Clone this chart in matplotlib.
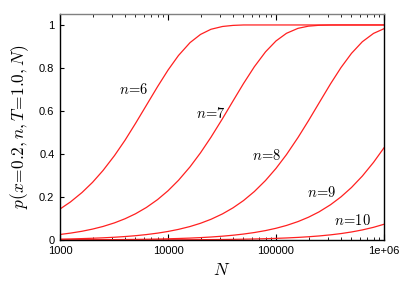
import matplotlib
matplotlib.use("Agg")
import matplotlib.pyplot as plt
from matplotlib.ticker import FixedLocator, LogLocator, NullFormatter

plt.rcParams['mathtext.fontset'] = 'cm'

N = [1000, 1250, 1600, 2000, 2500, 3200, 4000, 5000, 6300, 8000,
     10000, 12500, 16000, 20000, 25000, 32000, 40000, 50000, 63000, 80000,
     100000, 125000, 160000, 200000, 250000, 320000, 400000, 500000, 630000, 800000,
     1000000]

p_n6 = [0.144, 0.177, 0.221, 0.268, 0.323, 0.393, 0.464, 0.542, 0.626, 0.713,
        0.790, 0.858, 0.918, 0.956, 0.980, 0.993, 0.998, 1.000, 1.000, 1.000,
        1.000, 1.000, 1.000, 1.000, 1.000, 1.000, 1.000, 1.000, 1.000, 1.000,
        1.000]
p_n7 = [0.0257, 0.032, 0.0407, 0.0507, 0.0629, 0.0798, 0.0988, 0.1219, 0.1511, 0.1878,
        0.2289, 0.2775, 0.3403, 0.4055, 0.4780, 0.5648, 0.6466, 0.7275, 0.8056, 0.8751,
        0.9257, 0.9612, 0.9844, 0.9945, 0.9985, 0.9998, 1.000, 1.000, 1.000, 1.000,
        1.000]
p_n8 = [0.0040, 0.0050, 0.0065, 0.0081, 0.0101, 0.0129, 0.0161, 0.0200, 0.0252, 0.0319,
        0.0397, 0.0494, 0.0627, 0.0778, 0.0963, 0.1216, 0.1496, 0.1833, 0.2253, 0.2768,
        0.3330, 0.3971, 0.4769, 0.5551, 0.6367, 0.7264, 0.8021, 0.8680, 0.9220, 0.9608,
        0.9826]
p_n9 = [0.00056, 0.0007, 0.0009, 0.00112, 0.0014, 0.00179, 0.00224, 0.0028, 0.00353, 0.00448,
        0.0056, 0.0070, 0.0089, 0.0111, 0.0139, 0.0178, 0.0222, 0.0276, 0.0347, 0.0438,
        0.0545, 0.0676, 0.0857, 0.1060, 0.1306, 0.1641, 0.2007, 0.2442, 0.2973, 0.3611,
        0.4288]
p_n10 = [0.000076, 0.000095, 0.000122, 0.000152, 0.00019, 0.000243, 0.000304, 0.00038, 0.000479, 0.000608,
         0.00076, 0.00095, 0.001216, 0.00152, 0.0019, 0.00243, 0.00304, 0.0038, 0.00479, 0.00606,
         0.00757, 0.00946, 0.0121, 0.0151, 0.0188, 0.0240, 0.0299, 0.0373, 0.0468, 0.0590,
         0.0732]

series = [p_n6, p_n7, p_n8, p_n9, p_n10]
labels = [r'$n\!=\!6$', r'$n\!=\!7$', r'$n\!=\!8$', r'$n\!=\!9$', r'$n\!=\!10$']
label_x = [3500, 18000, 60500, 195000, 346000]
label_y = [0.70, 0.59, 0.395, 0.223, 0.093]

xticks = [1000, 10000, 100000, 1000000]
xticklabels = ['1000', '10000', '100000', '1e+06']
yticks = [0, 0.2, 0.4, 0.6, 0.8, 1.0]
yticklabels = ['0', '0.2', '0.4', '0.6', '0.8', '1']

fig = plt.figure(figsize=(4.05, 2.83), dpi=100)
ax = fig.add_axes([60/405, 1-240/283, 324/405, 226/283])

for s in series:
    ax.plot(N, s, color='#ff2020', lw=0.9)

for lab, lx, ly in zip(labels, label_x, label_y):
    ax.text(lx, ly, lab, ha='left', va='center', fontsize=10.5)

ax.set_xscale('log')
ax.set_xlim(1000, 1000000)
ax.set_ylim(0, 1.051)

ax.xaxis.set_major_locator(FixedLocator(xticks))
ax.set_xticklabels(xticklabels, fontfamily='Liberation Sans', fontsize=8)
ax.xaxis.set_minor_locator(LogLocator(base=10, subs=range(2, 10)))
ax.xaxis.set_minor_formatter(NullFormatter())
ax.set_yticks(yticks)
ax.set_yticklabels(yticklabels, fontfamily='Liberation Sans', fontsize=8)

ax.tick_params(axis='x', which='major', direction='in', length=4, width=0.8,
               top=True, pad=4, colors='black')
ax.tick_params(axis='x', which='minor', direction='in', length=2, width=0.6, top=True)
ax.tick_params(axis='y', which='major', direction='in', length=3, width=0.8,
               right=False, pad=4)

for side in ['left', 'bottom', 'right']:
    ax.spines[side].set_color('black')
    ax.spines[side].set_linewidth(1.0)
ax.spines['top'].set_color('#808080')
ax.spines['top'].set_linewidth(1.0)

ax.set_xlabel(r'$N$', fontsize=12.5, labelpad=4)
ax.set_ylabel(r'$p(x\!=\!0.2,n,T\!=\!1.0,N)$', fontsize=12.5, labelpad=6)

fig.savefig('out.png', dpi=100)
